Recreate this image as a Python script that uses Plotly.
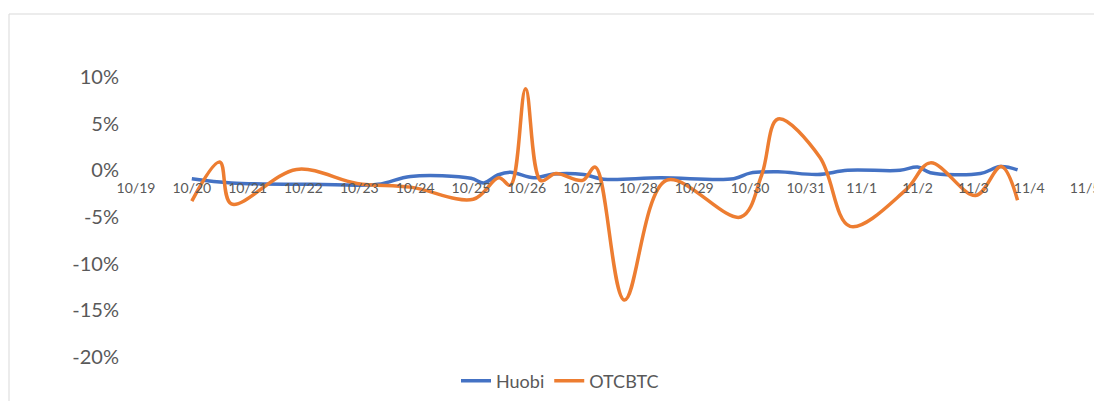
import plotly.graph_objects as go

# Huobi series (premium, %)
huobi_x = ["2017-10-20 00:00", "2017-10-20 17:00", "2017-10-22 04:30", "2017-10-23 08:00",
           "2017-10-23 22:00", "2017-10-25 00:00", "2017-10-25 05:30", "2017-10-25 11:30",
           "2017-10-25 17:00", "2017-10-26 03:00", "2017-10-26 11:30", "2017-10-27 00:30",
           "2017-10-27 09:00", "2017-10-28 09:30", "2017-10-29 17:00", "2017-10-30 00:00",
           "2017-10-30 12:00", "2017-10-31 05:00", "2017-10-31 18:00", "2017-11-01 16:30",
           "2017-11-02 00:00", "2017-11-02 05:30", "2017-11-03 03:00", "2017-11-03 11:30",
           "2017-11-03 19:00"]
huobi_y = [-0.9, -1.35, -1.5, -1.5,
           -0.65, -0.85, -1.35, -0.5,
           -0.2, -0.8, -0.4, -0.45,
           -0.95, -0.8, -0.9, -0.3,
           -0.15, -0.45, 0.0, 0.0,
           0.35, -0.25, -0.35, 0.4,
           0.05]

# OTCBTC series (premium, %)
otc_x = ["2017-10-20 00:00", "2017-10-20 12:00", "2017-10-20 17:00", "2017-10-21 21:00",
         "2017-10-22 23:00", "2017-10-23 22:00", "2017-10-25 01:00", "2017-10-25 12:00",
         "2017-10-25 17:00", "2017-10-25 23:30", "2017-10-26 06:00", "2017-10-26 12:30",
         "2017-10-27 00:00", "2017-10-27 05:30", "2017-10-27 18:00", "2017-10-28 12:00",
         "2017-10-29 20:00", "2017-10-30 05:00", "2017-10-30 12:00", "2017-10-31 06:00",
         "2017-10-31 19:00", "2017-11-01 19:00", "2017-11-02 05:30", "2017-11-03 01:00",
         "2017-11-03 12:00", "2017-11-03 19:00"]
otc_y = [-3.3, 0.9, -3.6, 0.1,
         -1.4, -1.8, -3.1, -0.8,
         -1.6, 8.75, -1.1, -0.35,
         -1.07, 0.35, -13.9, -1.07,
         -5.0, -0.5, 5.5, 1.4,
         -6.0, -2.1, 0.8, -2.7,
         0.4, -3.2]

y_ticks = [10, 5, 0, -5, -10, -15, -20]
y_labels = ["10%", "5%", "0%", "-5%", "-10%", "-15%", "-20%"]
x_range = ["2017-10-19", "2017-11-05"]
y_range = [-20, 10]

grey = "#595959"
fig = go.Figure()
fig.add_trace(go.Scatter(x=huobi_x, y=huobi_y, name="Huobi", mode="lines",
                         line=dict(color="#4472C4", width=3.5, shape="spline", smoothing=1)))
fig.add_trace(go.Scatter(x=otc_x, y=otc_y, name="OTCBTC", mode="lines",
                         line=dict(color="#ED7D31", width=3.5, shape="spline", smoothing=1)))

zero_pos = (0 - y_range[0]) / (y_range[1] - y_range[0])

# page body adds an 8px offset; figure sized to fit the window
W, H = 1094, 393
L, T, R, B = 128, 69, 17, 44
pw, ph = W - L - R, H - T - B

fig.update_layout(
    width=W, height=H,
    margin=dict(l=L, r=R, t=T, b=B, autoexpand=False),
    paper_bgcolor="white", plot_bgcolor="white",
    font=dict(family="Lato, Open Sans, sans-serif", color=grey),
    showlegend=True,
    legend=dict(orientation="h", x=(552 - L) / pw, xanchor="center",
                y=-(373 - (T + ph)) / ph, yanchor="middle",
                font=dict(size=18, color=grey), bgcolor="rgba(0,0,0,0)"),
    xaxis=dict(type="date", range=x_range, dtick=86400000, tick0="2017-10-19",
               tickformat="%-m/%-d", showgrid=False, zeroline=False, showline=False,
               anchor="free", position=zero_pos, ticks="", ticklabelstandoff=8,
               ticklabeloverflow="allow",
               automargin=False, tickfont=dict(size=14, color=grey)),
    yaxis=dict(range=y_range, tickvals=y_ticks, ticktext=y_labels, showgrid=False,
               zeroline=False, showline=False, ticks="", ticklabelstandoff=16,
               automargin=False, tickfont=dict(size=20, color=grey)),
    shapes=[dict(type="rect", xref="paper", yref="paper",
                 x0=(1 - L) / pw, x1=1.2, y0=-0.4, y1=(T + ph - 6) / ph,
                 line=dict(color="#D9D9D9", width=1), fillcolor="rgba(0,0,0,0)", layer="below")],
)

fig.write_html("out.html")
